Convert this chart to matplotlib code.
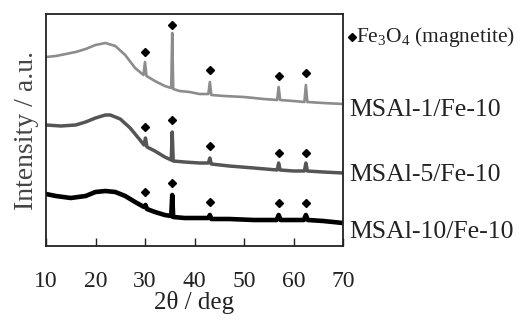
import matplotlib
matplotlib.use("Agg")
import matplotlib.pyplot as plt

plt.rcParams['font.family'] = ['Liberation Serif', 'DejaVu Serif']
plt.rcParams['mathtext.fontset'] = 'custom'
plt.rcParams['mathtext.rm'] = 'Liberation Serif'
plt.rcParams['mathtext.it'] = 'Liberation Serif:italic'

# 2theta / intensity (arbitrary units)
tt_top = [10, 12, 14, 16, 18, 20, 22, 24, 26, 28, 29.7, 30.0, 30.3, 32, 34, 35.3, 35.5, 35.7,
          37, 39, 41, 42.8, 43.1, 43.4, 46, 50, 54, 56.7, 57.0, 57.3, 60, 62.2, 62.5, 62.8, 66, 70]
int_top = [189, 190, 192, 194, 197, 201, 203, 200, 191, 178, 171, 184, 170, 165, 160, 158, 213, 157,
           155, 154, 152, 152, 164, 151, 150, 149, 147, 146, 159, 146, 145, 144, 161, 144, 143, 142]

tt_mid = [10, 13, 16, 18, 20, 22, 23, 25, 27, 29, 29.8, 30.1, 30.4, 32, 34, 35.3, 35.5, 35.7,
          38, 41, 42.8, 43.1, 43.4, 47, 52, 56.7, 57.0, 57.3, 60, 62.2, 62.5, 62.8, 66, 70]
int_mid = [121, 120, 121, 124, 128, 131, 131, 127, 118, 106, 101, 108, 99, 95, 89, 86, 114, 85,
           84, 83, 83, 88, 82, 80, 78, 76, 83, 76, 75, 75, 83, 75, 74, 73]

tt_bot = [10, 12, 15, 18, 20, 22, 24, 26, 28, 29.8, 30.1, 30.4, 32, 34, 35.3, 35.5, 35.7,
          38, 41, 42.8, 43.1, 43.4, 47, 52, 56.6, 57.0, 57.4, 60, 62.1, 62.5, 62.9, 66, 70]
int_bot = [52, 50, 48, 50, 54, 55, 54, 50, 44, 39, 41, 37, 34, 31, 30, 51, 29,
           28, 28, 28, 31, 27, 27, 26, 26, 31, 26, 26, 26, 31, 26, 25, 23]

# Fe3O4 reflections and marker heights above each pattern
peaks = [30.1, 35.5, 43.1, 57.0, 62.5]
mark_top = [194, 221, 176, 170, 173]
mark_mid = [119, 126, 100, 93, 93]
mark_bot = [54, 63, 44, 43, 43]

samples = ['MSAl-1/Fe-10', 'MSAl-5/Fe-10', 'MSAl-10/Fe-10']
label_y = [136, 71, 14]

fig = plt.figure(figsize=(5.22, 3.20), dpi=100)
ax = fig.add_axes([46 / 522, 74 / 320, 297 / 522, 232 / 320])

ax.plot(tt_top, int_top, color='#8c8c8c', lw=1.9)
ax.plot(tt_mid, int_mid, color='#555555', lw=2.5)
ax.plot(tt_bot, int_bot, color='black', lw=3.3)

for m in (mark_top, mark_mid, mark_bot):
    ax.plot(peaks, m, 'D', color='black', ms=4, ls='none')

ax.set_xlim(10, 70)
ax.set_ylim(0, 232)
ax.set_xticks([10, 20, 30, 40, 50, 60, 70])
ax.set_yticks([])
ax.tick_params(axis='x', direction='in', length=6, width=1, labelsize=17, pad=18, colors='#222222')
for s in ax.spines.values():
    s.set_linewidth(1.3)
    s.set_color('#222222')

ax.set_xlabel('2θ / deg', fontsize=18, labelpad=-1, color='#222222')
ax.set_ylabel('Intensity / a.u.', fontsize=20, labelpad=5, color='#444444')

for name, yy in zip(samples, label_y):
    ax.text(71.3, yy, name, fontsize=18.5, va='center', ha='left', clip_on=False, color='#222222')

ax.plot([71.8], [209], 'D', color='black', ms=4, clip_on=False)
ax.text(72.6, 209, 'Fe$_3$O$_4$ (magnetite)', fontsize=15.5, va='center', ha='left', clip_on=False,
        color='#222222')

fig.savefig('out.png', dpi=100)
